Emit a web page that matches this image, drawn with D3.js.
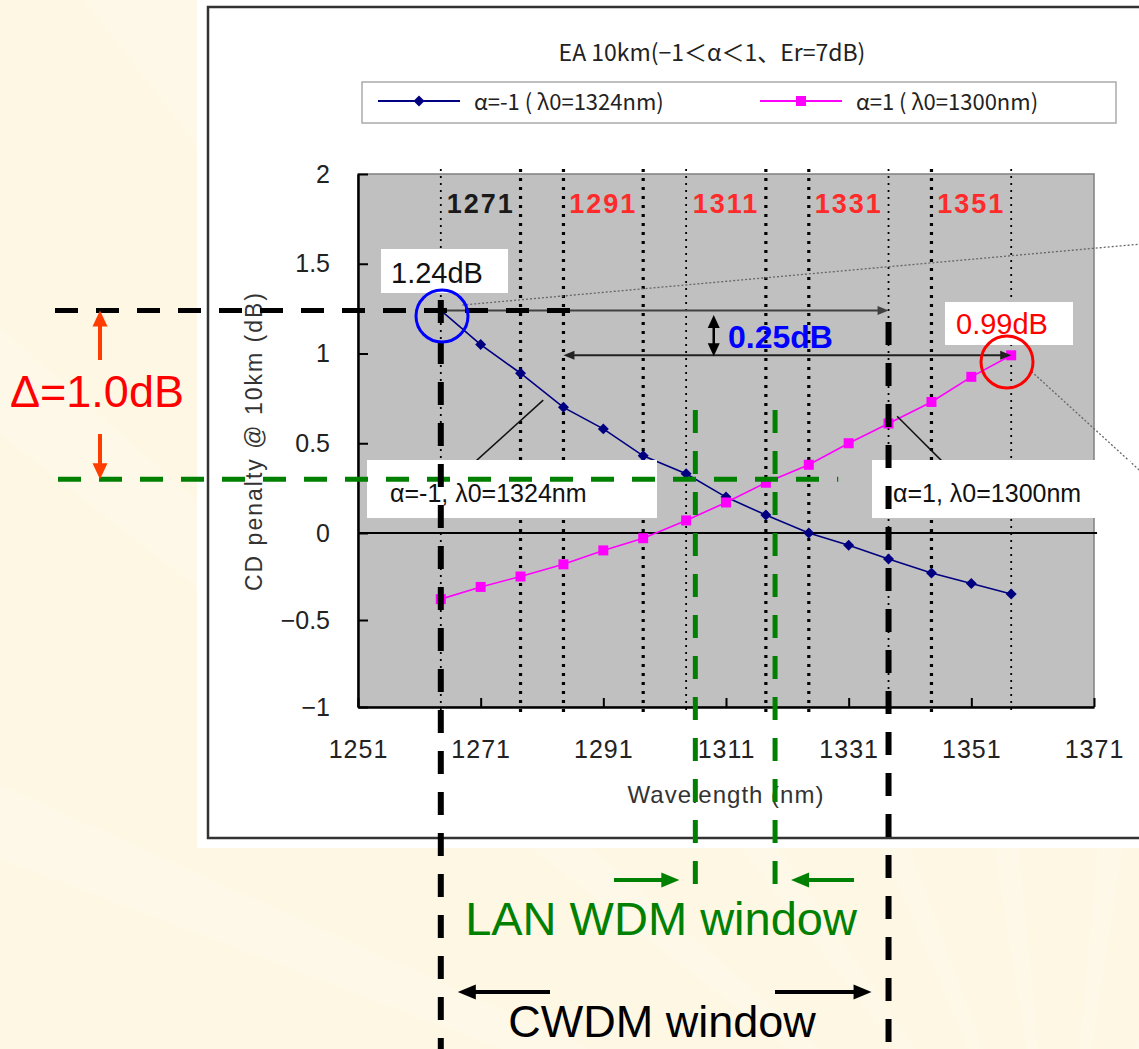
<!DOCTYPE html>
<html>
<head>
<meta charset="utf-8">
<script src="https://cdn.jsdelivr.net/npm/d3@7"></script>
<style>
    body { margin: 0; background: #fef7e4; }
    svg { display: block; }
</style>
</head>
<body>
<div id="chart"></div>
<script>
var svgWidth = 1139;
var svgHeight = 1049;

// chart data
var wavelengths = [1264.5, 1271, 1277.5, 1284.5, 1291, 1297.5, 1304.5, 1311, 1317.5, 1324.5, 1331, 1337.5, 1344.5, 1351, 1357.5];
var penaltyAlphaNeg = [1.24, 1.05, 0.89, 0.70, 0.58, 0.43, 0.33, 0.20, 0.10, 0.00, -0.07, -0.15, -0.23, -0.29, -0.35];
var penaltyAlphaPos = [-0.38, -0.31, -0.25, -0.18, -0.10, -0.03, 0.07, 0.17, 0.28, 0.38, 0.50, 0.61, 0.73, 0.87, 0.99];
var seriesNames = ["α=-1 ( λ0=1324nm)", "α=1 ( λ0=1300nm)"];
var channelCenters = [1271, 1291, 1311, 1331, 1351];
var channelEdges = [1264.5, 1277.5, 1284.5, 1297.5, 1304.5, 1317.5, 1324.5, 1337.5, 1344.5, 1357.5];
var xTicks = [1251, 1271, 1291, 1311, 1331, 1351, 1371];
var yTicks = [-1, -0.5, 0, 0.5, 1, 1.5, 2];
var cwdmWindow = [1264.5, 1337.5];
var lanWindow = [1306, 1319];
var penaltyLevels = [1.24, 0.30];
var markedPenalty = [1.24, 0.99];

var plot = { left: 358, right: 1094, top: 174, bottom: 707, zero: 533 };

var svg = d3.select("#chart")
    .append("svg")
    .attr("width", svgWidth)
    .attr("height", svgHeight);

var font = "'Liberation Sans', Arial, sans-serif";
var jpFont = "'Noto Sans CJK JP', 'Liberation Sans', sans-serif";

// faint background rays
var rayOrigin = [1060, 1260];
var rayAngles = [-2.75, -2.45, -2.2, -1.95, -1.7, -1.45, -1.2];
rayAngles.forEach(function(a) {
    var p1 = [rayOrigin[0] + 2000 * Math.cos(a - 0.03), rayOrigin[1] + 2000 * Math.sin(a - 0.03)];
    var p2 = [rayOrigin[0] + 2000 * Math.cos(a + 0.03), rayOrigin[1] + 2000 * Math.sin(a + 0.03)];
    svg.append("path")
        .attr("d", "M" + rayOrigin + "L" + p1 + "L" + p2 + "Z")
        .attr("fill", "#ffffff")
        .attr("opacity", 0.15);
});

// white chart panel
svg.append("rect").attr("x", 197).attr("y", 0).attr("width", 960).attr("height", 848).attr("fill", "#fff");
svg.append("rect").attr("x", 208).attr("y", 7).attr("width", 960).attr("height", 831)
    .attr("fill", "none").attr("stroke", "#333").attr("stroke-width", 2.5);

// scales
var xScale = d3.scaleLinear().domain([1251, 1371]).range([plot.left, plot.right]);
var yScale = d3.scaleLinear().domain([-1, 0, 2]).range([plot.bottom, plot.zero, plot.top]);

// plot area
svg.append("rect")
    .attr("x", plot.left).attr("y", plot.top)
    .attr("width", plot.right - plot.left).attr("height", plot.bottom - plot.top)
    .attr("fill", "#c0c0c0").attr("stroke", "#808080").attr("stroke-width", 1.5);

// title + legend
svg.append("text")
    .attr("x", 712).attr("y", 61)
    .attr("text-anchor", "middle")
    .attr("font-family", jpFont).attr("font-size", 23).attr("fill", "#222")
    .text("EA 10km(−1＜α＜1、Er=7dB)");

svg.append("rect").attr("x", 362).attr("y", 82).attr("width", 754).attr("height", 41)
    .attr("fill", "#fff").attr("stroke", "#aaa").attr("stroke-width", 1.5);

var legendItems = [
    { name: seriesNames[0], color: "#000080", symbol: "diamond", x: 378 },
    { name: seriesNames[1], color: "#ff00ff", symbol: "square", x: 760 }
];

function drawMarker(g, kind, color, cx, cy) {
    if (kind === "diamond") {
        g.append("path")
            .attr("d", d3.symbol(d3.symbolSquare, 60)())
            .attr("transform", "translate(" + cx + "," + cy + ") rotate(45)")
            .attr("fill", color);
    } else {
        g.append("rect")
            .attr("x", cx - 5).attr("y", cy - 5).attr("width", 10).attr("height", 10)
            .attr("fill", color);
    }
}

legendItems.forEach(function(item) {
    svg.append("line").attr("x1", item.x).attr("x2", item.x + 82).attr("y1", 101).attr("y2", 101)
        .attr("stroke", item.color).attr("stroke-width", 2);
    drawMarker(svg, item.symbol, item.color, item.x + 41, 101);
    svg.append("text")
        .attr("x", item.x + 96).attr("y", 110)
        .attr("font-family", jpFont).attr("font-size", 22).attr("fill", "#222")
        .text(item.name);
});

// channel edge lines (dotted)
var thinEdges = [1264.5, 1304.5, 1337.5, 1357.5];
svg.append("g").selectAll("line")
    .data(channelEdges)
    .enter()
    .append("line")
    .attr("x1", d => xScale(d)).attr("x2", d => xScale(d))
    .attr("y1", plot.top - 5).attr("y2", plot.bottom + 7)
    .attr("stroke", "#000")
    .attr("stroke-width", d => thinEdges.indexOf(d) >= 0 ? 1.8 : 3.2)
    .attr("stroke-dasharray", d => thinEdges.indexOf(d) >= 0 ? "2,5" : "3,6");

// zero line
svg.append("line")
    .attr("x1", plot.left).attr("x2", xScale(1371.5))
    .attr("y1", yScale(0)).attr("y2", yScale(0))
    .attr("stroke", "#000").attr("stroke-width", 2);

// axes
var leftAxis = d3.axisLeft(yScale)
    .tickValues(yTicks)
    .tickFormat(d3.format(""))
    .tickSizeInner(-10).tickSizeOuter(0).tickPadding(28);
var bottomAxis = d3.axisBottom(xScale)
    .tickValues(xTicks)
    .tickFormat(d3.format("d"))
    .tickSizeInner(-9).tickSizeOuter(0).tickPadding(33);

var yAxisG = svg.append("g").attr("transform", "translate(" + plot.left + ",0)").call(leftAxis);
var xAxisG = svg.append("g").attr("transform", "translate(0," + plot.bottom + ")").call(bottomAxis);
[yAxisG, xAxisG].forEach(function(g) {
    g.select(".domain").attr("stroke", "#000").attr("stroke-width", 2.5);
    g.selectAll(".tick line").attr("stroke", "#000").attr("stroke-width", 2);
    g.selectAll("text").attr("font-family", font).attr("font-size", 25).attr("fill", "#222");
});
xAxisG.selectAll(".tick text").attr("letter-spacing", 1);

svg.append("text")
    .attr("x", xScale(1311)).attr("y", 803)
    .attr("text-anchor", "middle")
    .attr("font-family", font).attr("font-size", 24).attr("letter-spacing", 1).attr("fill", "#333")
    .text("Wavelength (nm)");

svg.append("text")
    .attr("transform", "translate(262," + 441 + ") rotate(-90)")
    .attr("text-anchor", "middle")
    .attr("font-family", font).attr("font-size", 23).attr("letter-spacing", 2).attr("fill", "#333")
    .text("CD penalty @ 10km (dB)");

// channel labels
svg.append("g").selectAll("text")
    .data(channelCenters)
    .enter()
    .append("text")
    .attr("x", d => xScale(d)).attr("y", 213)
    .attr("text-anchor", "middle")
    .attr("font-family", font).attr("font-size", 27).attr("font-weight", "bold")
    .attr("letter-spacing", 2)
    .attr("fill", (d, i) => i === 0 ? "#1a1a1a" : "#ff2a2a")
    .text(d => d);

// series
var series = [
    { values: penaltyAlphaNeg, color: "#000080", symbol: "diamond" },
    { values: penaltyAlphaPos, color: "#ff00ff", symbol: "square" }
];
var line = d3.line().x(d => xScale(d[0])).y(d => yScale(d[1]));
series.forEach(function(s) {
    var pts = wavelengths.map((w, i) => [w, s.values[i]]);
    svg.append("path").datum(pts).attr("d", line)
        .attr("fill", "none").attr("stroke", s.color).attr("stroke-width", 1.6);
    var g = svg.append("g");
    pts.forEach(p => drawMarker(g, s.symbol, s.color, xScale(p[0]), yScale(p[1])));
});

// helper for arrows
function arrowHead(g, x1, y1, x2, y2, color, len, wid) {
    var a = Math.atan2(y2 - y1, x2 - x1);
    var bx = x2 - len * Math.cos(a), by = y2 - len * Math.sin(a);
    var nx = -Math.sin(a) * wid / 2, ny = Math.cos(a) * wid / 2;
    g.append("path")
        .attr("d", "M" + [x2, y2] + "L" + [bx + nx, by + ny] + "L" + [bx - nx, by - ny] + "Z")
        .attr("fill", color);
}
function arrow(g, x1, y1, x2, y2, color, w, len, wid, both) {
    var a = Math.atan2(y2 - y1, x2 - x1);
    var sx = both ? x1 + len * 0.8 * Math.cos(a) : x1, sy = both ? y1 + len * 0.8 * Math.sin(a) : y1;
    g.append("line")
        .attr("x1", sx).attr("y1", sy)
        .attr("x2", x2 - len * 0.8 * Math.cos(a)).attr("y2", y2 - len * 0.8 * Math.sin(a))
        .attr("stroke", color).attr("stroke-width", w);
    arrowHead(g, x1, y1, x2, y2, color, len, wid);
    if (both) arrowHead(g, x2, y2, x1, y1, color, len, wid);
}

var ann = svg.append("g");

// gray dotted leader lines running off to the right
ann.append("line")
    .attr("x1", xScale(1268)).attr("y1", yScale(1.27))
    .attr("x2", xScale(1382)).attr("y2", yScale(1.62))
    .attr("stroke", "#666").attr("stroke-width", 1.3).attr("stroke-dasharray", "2,2");
ann.append("line")
    .attr("x1", xScale(1360.8)).attr("y1", yScale(0.9))
    .attr("x2", xScale(1380)).attr("y2", yScale(0.3))
    .attr("stroke", "#666").attr("stroke-width", 1.3).attr("stroke-dasharray", "2,2");

// penalty spread arrows
arrow(ann, xScale(cwdmWindow[0]), yScale(markedPenalty[0]), xScale(cwdmWindow[1]), yScale(markedPenalty[0]), "#404040", 2, 11, 9, false);
arrow(ann, xScale(1284.5), yScale(markedPenalty[1]), xScale(1357.5), yScale(markedPenalty[1]), "#222", 2, 11, 9, true);
arrow(ann, xScale(1309), yScale(1.215), xScale(1309), yScale(markedPenalty[1]) + 1, "#000", 2.5, 13, 12, true);

ann.append("text")
    .attr("x", 728).attr("y", 348)
    .attr("font-family", font).attr("font-size", 32).attr("font-weight", "bold").attr("fill", "#0000ff")
    .text("0.25dB");

// value boxes
ann.append("rect").attr("x", 381).attr("y", 249).attr("width", 127).attr("height", 44).attr("fill", "#fff");
ann.append("text").attr("x", 391).attr("y", 283)
    .attr("font-family", font).attr("font-size", 29).attr("fill", "#111")
    .text(markedPenalty[0].toFixed(2) + "dB");
ann.append("rect").attr("x", 945).attr("y", 302).attr("width", 128).attr("height", 43).attr("fill", "#fff");
ann.append("text").attr("x", 956).attr("y", 334)
    .attr("font-family", font).attr("font-size", 29).attr("fill", "#ff0000")
    .text(markedPenalty[1].toFixed(2) + "dB");

// curve callouts
ann.append("line")
    .attr("x1", xScale(1268.9)).attr("y1", yScale(0.36))
    .attr("x2", xScale(1281.2)).attr("y2", yScale(0.74))
    .attr("stroke", "#111").attr("stroke-width", 1.5);
ann.append("line")
    .attr("x1", xScale(1338.9)).attr("y1", yScale(0.65))
    .attr("x2", xScale(1347.4)).attr("y2", yScale(0.36))
    .attr("stroke", "#111").attr("stroke-width", 1.5);
ann.append("rect").attr("x", 367).attr("y", 460).attr("width", 290).attr("height", 58).attr("fill", "#fff");
ann.append("text").attr("x", 390).attr("y", 502)
    .attr("font-family", font).attr("font-size", 25).attr("fill", "#111")
    .text("α=-1, λ0=1324nm");
ann.append("rect").attr("x", 872).attr("y", 460).attr("width", 258).attr("height", 58).attr("fill", "#fff");
ann.append("text").attr("x", 893).attr("y", 502)
    .attr("font-family", font).attr("font-size", 25).attr("fill", "#111")
    .text("α=1, λ0=1300nm");

// slide overlays: penalty levels and windows
var dash = "23,18";
ann.append("line")
    .attr("x1", 55).attr("x2", xScale(1287.7))
    .attr("y1", yScale(penaltyLevels[0])).attr("y2", yScale(penaltyLevels[0]))
    .attr("stroke", "#000").attr("stroke-width", 5).attr("stroke-dasharray", dash);
ann.append("line")
    .attr("x1", 58).attr("x2", xScale(1329.3))
    .attr("y1", yScale(penaltyLevels[1])).attr("y2", yScale(penaltyLevels[1]))
    .attr("stroke", "#008000").attr("stroke-width", 5).attr("stroke-dasharray", dash);

cwdmWindow.forEach(function(w, i) {
    ann.append("line")
        .attr("x1", xScale(w)).attr("x2", xScale(w))
        .attr("y1", i === 0 ? 300 : 322).attr("y2", svgHeight)
        .attr("stroke", "#000").attr("stroke-width", 6).attr("stroke-dasharray", dash);
});
lanWindow.forEach(function(w) {
    ann.append("line")
        .attr("x1", xScale(w)).attr("x2", xScale(w))
        .attr("y1", 410).attr("y2", 894)
        .attr("stroke", "#008000").attr("stroke-width", 5).attr("stroke-dasharray", dash);
});

// highlight circles
ann.append("circle").attr("cx", 442).attr("cy", 316).attr("r", 26)
    .attr("fill", "none").attr("stroke", "#0000ff").attr("stroke-width", 3);
ann.append("circle").attr("cx", 1007).attr("cy", 362).attr("r", 26)
    .attr("fill", "none").attr("stroke", "#ff0000").attr("stroke-width", 3);

// delta annotation
arrow(ann, 100, 360, 100, yScale(penaltyLevels[0]), "#ff3d00", 4, 16, 15, false);
arrow(ann, 100, 434, 100, yScale(penaltyLevels[1]), "#ff3d00", 4, 16, 15, false);
ann.append("text").attr("x", 10).attr("y", 407)
    .attr("font-family", font).attr("font-size", 45).attr("fill", "#ff0000")
    .text("Δ=1.0dB");

// window labels
arrow(ann, 614, 880, xScale(lanWindow[0]) - 16, 880, "#008000", 4, 18, 15, false);
arrow(ann, 854, 880, xScale(lanWindow[1]) + 16, 880, "#008000", 4, 18, 15, false);
ann.append("text").attr("x", 661).attr("y", 935)
    .attr("text-anchor", "middle")
    .attr("font-family", font).attr("font-size", 47).attr("fill", "#008000")
    .text("LAN WDM window");

arrow(ann, 550, 992, xScale(cwdmWindow[0]) + 17, 992, "#000", 4, 18, 15, false);
arrow(ann, 775, 992, xScale(cwdmWindow[1]) - 17, 992, "#000", 4, 18, 15, false);
ann.append("text").attr("x", 662).attr("y", 1037)
    .attr("text-anchor", "middle")
    .attr("font-family", font).attr("font-size", 45).attr("fill", "#000")
    .text("CWDM window");
</script>
</body>
</html>
